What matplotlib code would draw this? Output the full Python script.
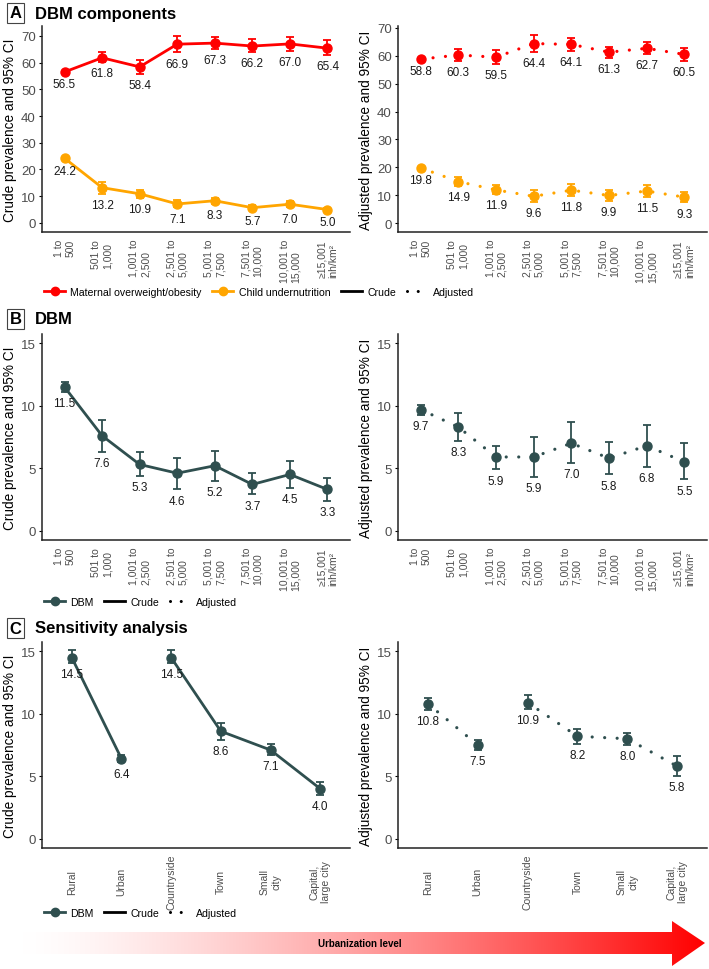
import matplotlib.pyplot as plt
import numpy as np
from matplotlib.lines import Line2D
from matplotlib.patches import Polygon

plt.rcParams['font.family'] = ['Liberation Sans', 'DejaVu Sans']

density = ["1 to\n500", "501 to\n1,000", "1,001 to\n2,500", "2,501 to\n5,000",
           "5,001 to\n7,500", "7,501 to\n10,000", "10,001 to\n15,000", "≥15,001\ninh/km²"]
areas = ["Rural", "Urban", "Countryside", "Town", "Small\ncity", "Capital,\nlarge city"]

# A - maternal overweight/obesity
mat_crude = [56.5, 61.8, 58.4, 66.9, 67.3, 66.2, 67.0, 65.4]
mat_crude_lo = [56.0, 60.1, 55.8, 63.8, 65.0, 64.0, 64.4, 63.0]
mat_crude_hi = [57.0, 63.8, 61.0, 70.0, 69.7, 68.7, 69.4, 68.5]
mat_adj = [58.8, 60.3, 59.5, 64.4, 64.1, 61.3, 62.7, 60.5]
mat_adj_lo = [58.4, 58.1, 57.0, 61.3, 61.6, 59.3, 60.6, 58.2]
mat_adj_hi = [59.2, 62.5, 62.0, 67.3, 66.5, 63.3, 64.8, 62.8]
# A - child undernutrition
child_crude = [24.2, 13.2, 10.9, 7.1, 8.3, 5.7, 7.0, 5.0]
child_crude_lo = [23.6, 11.0, 9.5, 5.8, 7.0, 4.8, 5.8, 4.5]
child_crude_hi = [24.8, 15.5, 12.5, 8.6, 9.5, 6.8, 8.3, 5.6]
child_adj = [19.8, 14.9, 11.9, 9.6, 11.8, 9.9, 11.5, 9.3]
child_adj_lo = [19.4, 13.3, 10.3, 7.5, 9.8, 8.0, 9.3, 7.4]
child_adj_hi = [20.2, 16.5, 13.5, 11.7, 13.9, 11.9, 13.6, 11.1]
# B - DBM
dbm_crude = [11.5, 7.6, 5.3, 4.6, 5.2, 3.7, 4.5, 3.3]
dbm_crude_lo = [11.1, 6.3, 4.4, 3.3, 4.0, 2.9, 3.4, 2.4]
dbm_crude_hi = [11.9, 8.9, 6.3, 5.8, 6.4, 4.6, 5.6, 4.2]
dbm_adj = [9.7, 8.3, 5.9, 5.9, 7.0, 5.8, 6.8, 5.5]
dbm_adj_lo = [9.3, 7.2, 4.9, 4.3, 5.4, 4.5, 5.1, 4.1]
dbm_adj_hi = [10.1, 9.4, 6.8, 7.5, 8.7, 7.1, 8.5, 7.0]
# C - sensitivity analysis
sens_crude = [14.5, 6.4, 14.5, 8.6, 7.1, 4.0]
sens_crude_lo = [14.1, 6.1, 14.1, 7.9, 6.7, 3.5]
sens_crude_hi = [15.1, 6.7, 15.1, 9.3, 7.6, 4.5]
sens_adj = [10.8, 7.5, 10.9, 8.2, 8.0, 5.8]
sens_adj_lo = [10.3, 7.1, 10.4, 7.6, 7.5, 5.0]
sens_adj_hi = [11.3, 7.9, 11.5, 8.8, 8.5, 6.6]
sens_groups = [[0, 1], [2, 3, 4, 5]]

RED = '#FF0000'
ORANGE = '#FFA500'
DBM = '#2F4F4F'
GREY = '#4D4D4D'
DOT = (0, (0.01, 3.9))

W, H = 709, 970
fig = plt.figure(figsize=(W / 100, H / 100), dpi=100)


def add_ax(x0, x1, y0, y1):
    return fig.add_axes([x0 / W, 1 - y1 / H, (x1 - x0) / W, (y1 - y0) / H])


def panel(ax, labels, series, dotted, ylim, yticks, ylabel, groups=None, centered=False):
    x = np.arange(len(labels))
    if groups is None:
        groups = [list(x)]
    for vals, lo, hi, color in series:
        vals, lo, hi = np.array(vals), np.array(lo), np.array(hi)
        for g in groups:
            if dotted:
                ax.plot(x[g], vals[g], color=color, lw=2.3, ls=DOT, dash_capstyle='round', zorder=2)
            else:
                ax.plot(x[g], vals[g], color=color, lw=2, zorder=2)
        ax.errorbar(x, vals, yerr=[vals - lo, hi - vals], fmt='none', ecolor=color,
                    elinewidth=1.3, capsize=3, capthick=1.3, zorder=3)
        ax.plot(x, vals, 'o', color=color, ms=6.5, zorder=4)
        for xi, v, l in zip(x, vals, lo):
            ax.annotate(f"{v:.1f}", (xi, l), xytext=(0, -8), textcoords='offset points',
                        ha='center', va='center', fontsize=8.5, color='#1a1a1a')
    ax.set_xlim(-0.6, len(labels) - 0.4)
    ax.set_ylim(*ylim)
    ax.set_yticks(yticks)
    ax.set_xticks(x)
    ax.set_ylabel(ylabel, fontsize=9.8, labelpad=3)
    for s in ['top', 'right']:
        ax.spines[s].set_visible(False)
    for s in ['left', 'bottom']:
        ax.spines[s].set_linewidth(1.1)
        ax.spines[s].set_color('#222222')
    ax.tick_params(axis='y', labelsize=9.5, labelcolor=GREY, length=2.5, width=0.8, pad=2)
    if centered:
        ax.set_xticklabels(labels, rotation=90, fontsize=7.5, color=GREY, ha='center',
                           va='center', multialignment='center')
        ax.tick_params(axis='x', length=0, pad=24)
    else:
        ax.set_xticklabels(labels, rotation=90, fontsize=7.5, color=GREY, ha='center',
                           va='top', multialignment='left')
        ax.tick_params(axis='x', length=0, pad=5)


def title(letter, text, y):
    fig.text(15.5 / W, 1 - y / H, letter, ha='center', va='center', fontsize=12, weight='bold',
             bbox=dict(boxstyle='square,pad=0.15', fc='white', ec='#444444', lw=0.8))
    fig.text(35 / W, 1 - y / H, text, ha='left', va='center', fontsize=12, weight='bold')


def legend(items, y):
    handles = []
    names = []
    for name, color, kind in items:
        if kind == 'point':
            handles.append(Line2D([], [], color=color, lw=2, marker='o', ms=6))
        elif kind == 'solid':
            handles.append(Line2D([], [], color='black', lw=2))
        else:
            handles.append(Line2D([], [], color='black', lw=2.2, ls=(0, (0.01, 3.5)),
                                  dash_capstyle='round'))
        names.append(name)
    fig.legend(handles, names, loc='center left', bbox_to_anchor=(44 / W, 1 - y / H),
               ncol=len(items), frameon=False, fontsize=7.6, handlelength=2.0,
               handletextpad=0.5, columnspacing=1.0, borderpad=0, borderaxespad=0)


lin_items = [("Crude", None, 'solid'), ("Adjusted", None, 'dotted')]

# Panel A
title('A', 'DBM components', 14)
axl = add_ax(42, 350, 27, 233)
panel(axl, density, [(mat_crude, mat_crude_lo, mat_crude_hi, RED),
                     (child_crude, child_crude_lo, child_crude_hi, ORANGE)],
      False, (-3.4, 73.7), range(0, 71, 10), "Crude prevalence and 95% CI")
axr = add_ax(398, 707, 27, 233)
panel(axr, density, [(mat_adj, mat_adj_lo, mat_adj_hi, RED),
                     (child_adj, child_adj_lo, child_adj_hi, ORANGE)],
      True, (-3.2, 70.7), range(0, 71, 10), "Adjusted prevalence and 95% CI")
legend([("Maternal overweight/obesity", RED, 'point'),
        ("Child undernutrition", ORANGE, 'point')] + lin_items, 293)

# Panel B
title('B', 'DBM', 320)
axl = add_ax(42, 350, 335, 541)
panel(axl, density, [(dbm_crude, dbm_crude_lo, dbm_crude_hi, DBM)],
      False, (-0.75, 15.75), [0, 5, 10, 15], "Crude prevalence and 95% CI")
axr = add_ax(398, 707, 335, 541)
panel(axr, density, [(dbm_adj, dbm_adj_lo, dbm_adj_hi, DBM)],
      True, (-0.75, 15.75), [0, 5, 10, 15], "Adjusted prevalence and 95% CI")
legend([("DBM", DBM, 'point')] + lin_items, 603)

# Panel C
title('C', 'Sensitivity analysis', 629)
axl = add_ax(42, 350, 643, 849)
panel(axl, areas, [(sens_crude, sens_crude_lo, sens_crude_hi, DBM)],
      False, (-0.75, 15.75), [0, 5, 10, 15], "Crude prevalence and 95% CI",
      groups=sens_groups, centered=True)
axr = add_ax(398, 707, 643, 849)
panel(axr, areas, [(sens_adj, sens_adj_lo, sens_adj_hi, DBM)],
      True, (-0.75, 15.75), [0, 5, 10, 15], "Adjusted prevalence and 95% CI",
      groups=sens_groups, centered=True)
legend([("DBM", DBM, 'point')] + lin_items, 914)

# urbanization arrow with white-to-red gradient
bg = fig.add_axes([0, 0, 1, 1], zorder=-1)
bg.set_xlim(0, W)
bg.set_ylim(H, 0)
bg.axis('off')
arrow = Polygon([(22, 933), (672, 933), (672, 922), (705, 944), (672, 967),
                 (672, 955), (22, 955)], closed=True, fc='none', ec='none')
bg.add_patch(arrow)
t = np.linspace(0, 1, 512) ** 1.4
grad = np.ones((1, 512, 3))
grad[0, :, 1] = 1 - t
grad[0, :, 2] = 1 - t
img = bg.imshow(grad, extent=(22, 705, 967, 922), aspect='auto', interpolation='bilinear')
img.set_clip_path(arrow)
bg.text(360, 944, "Urbanization level", ha='center', va='center', fontsize=7, weight='bold')

fig.savefig('out.png', dpi=100)
